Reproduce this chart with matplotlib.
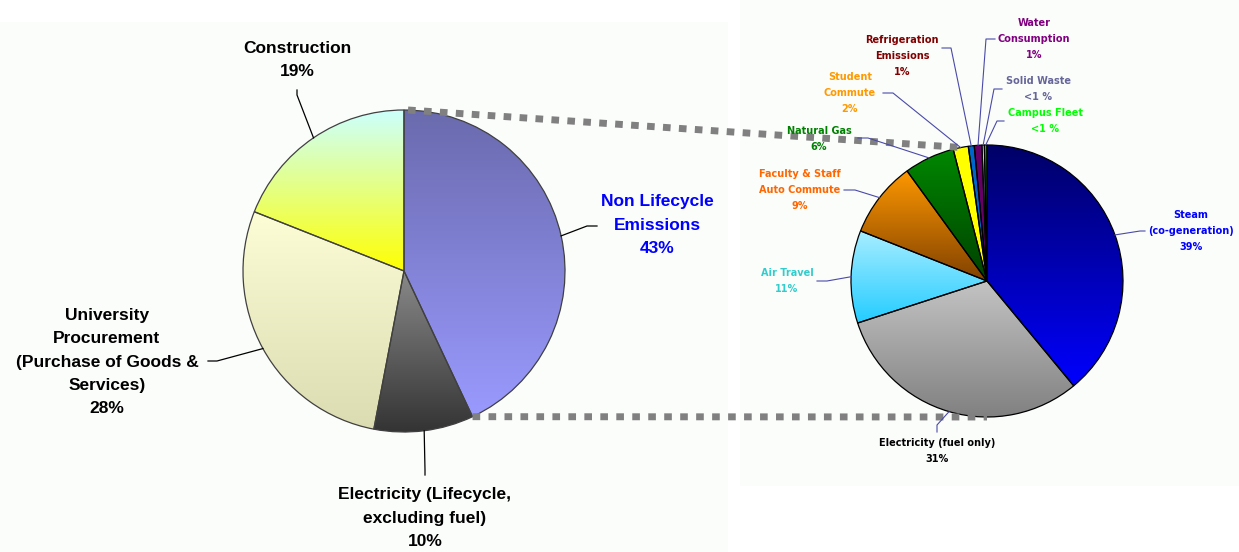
import numpy as np
import matplotlib
matplotlib.use("Agg")
import matplotlib.pyplot as plt
from matplotlib.colors import LinearSegmentedColormap
from matplotlib.patches import Rectangle

# ---------------- data ----------------
left_labels = ["Non Lifecycle\nEmissions", "Electricity (Lifecycle,\nexcluding fuel)",
               "University\nProcurement\n(Purchase of Goods &\nServices)", "Construction"]
left_values = [43, 10, 28, 19]
left_pct = ["43%", "10%", "28%", "19%"]

right_labels = ["Steam\n(co-generation)", "Electricity (fuel only)", "Air Travel",
                "Faculty & Staff\nAuto Commute", "Natural Gas", "Student\nCommute",
                "Refrigeration\nEmissions", "Water\nConsumption", "Solid Waste", "Campus Fleet"]
right_values = [39, 31, 11, 9, 6, 1.8, 0.7, 0.9, 0.3, 0.3]
right_pct = ["39%", "31%", "11%", "9%", "6%", "2%", "1%", "1%", "<1 %", "<1 %"]

# ---------------- styles ----------------
W, H = 1239, 552
left_grad = [("#6a6aae", "#9a9aff"), ("#8a8a8a", "#333333"),
             ("#fdfdd6", "#dcdcb2"), ("#ccffff", "#ffff00")]
left_txtcol = ["#0000ff", "black", "black", "black"]
right_grad = [("#000066", "#0000ff"), ("#c4c4c4", "#808080"), ("#aaeeff", "#22ccff"),
              ("#ff9900", "#804000"), ("#008800", "#004000"), ("#ffff00", "#ffff00"),
              ("#0066cc", "#0066cc"), ("#660066", "#660066"), ("#aaccee", "#aaccee"),
              ("#00ff00", "#00ff00")]
right_txtcol = ["#0000ff", "black", "#33cccc", "#ff6600", "#008000", "#ff9900",
                "#800000", "#800080", "#666699", "#00ff00"]

fig = plt.figure(figsize=(W / 100, H / 100), dpi=100)
ax = fig.add_axes([0, 0, 1, 1])
ax.set_xlim(0, W)
ax.set_ylim(0, H)
ax.set_aspect("equal")
ax.axis("off")

def Y(y):
    return H - y

# faint panel backgrounds
ax.add_patch(Rectangle((0, 0), 728, Y(22), color="#fbfdfb", zorder=0, lw=0))
ax.add_patch(Rectangle((740, Y(486)), W - 740, 486, color="#fbfdfb", zorder=0, lw=0))

def wedge_bbox(w):
    t = np.deg2rad(np.linspace(w.theta1, w.theta2, 200))
    xs = np.concatenate([[w.center[0]], w.center[0] + w.r * np.cos(t)])
    ys = np.concatenate([[w.center[1]], w.center[1] + w.r * np.sin(t)])
    return xs.min(), xs.max(), ys.min(), ys.max()

def grad_pie(values, center, radius, grads, edgecolor, lw):
    wedges, _ = ax.pie(values, startangle=90, counterclock=False, center=center,
                       radius=radius, frame=True,
                       wedgeprops=dict(facecolor="none", edgecolor=edgecolor,
                                       linewidth=lw, zorder=3))
    for w, (c1, c2) in zip(wedges, grads):
        cmap = LinearSegmentedColormap.from_list("g", [c1, c2])
        img = np.linspace(0, 1, 256).reshape(-1, 1)
        x0, x1, y0, y1 = wedge_bbox(w)
        im = ax.imshow(img, cmap=cmap, origin="upper", aspect="auto",
                       extent=(x0 - 1, x1 + 1, y0 - 1, y1 + 1),
                       zorder=2, interpolation="bilinear")
        im.set_clip_path(w)
    return wedges

def mid_point(w, frac=1.0):
    a = np.deg2rad((w.theta1 + w.theta2) / 2)
    return (w.center[0] + frac * w.r * np.cos(a), w.center[1] + frac * w.r * np.sin(a))

# ---------------- left pie ----------------
lc, lr = (404, Y(271)), 161
lw_ = grad_pie(left_values, lc, lr, left_grad, "#404040", 0.9)

# ---------------- right pie ----------------
rc, rr = (987, Y(281)), 136
rw_ = grad_pie(right_values, rc, rr, right_grad, "black", 0.9)

ax.set_xlim(0, W)
ax.set_ylim(0, H)
ax.axis("off")

# ---------------- dotted connectors ----------------
w0 = lw_[0]
a1 = np.deg2rad(w0.theta1)
p_top = (lc[0] + 4, lc[1] + lr)
p_bot = (lc[0] + lr * np.cos(a1), lc[1] + lr * np.sin(a1))
q_top = (rc[0] + rr * np.cos(np.deg2rad(101)), rc[1] + rr * np.sin(np.deg2rad(101)))
q_bot = (rc[0], rc[1] - rr)
for p, q in [(p_top, q_top), (p_bot, q_bot)]:
    ax.plot([p[0], q[0]], [p[1], q[1]], color="#808080", lw=5,
            linestyle=(0, (1.1, 1.2)), solid_capstyle="butt", zorder=4)

# ---------------- left labels ----------------
lfont = dict(family=["Liberation Sans Narrow", "Liberation Sans", "DejaVu Sans"],
             fontweight="bold", fontsize=12.5, ha="center", va="center",
             linespacing=1.7, zorder=6)
# (text center x, text center y, leader start, leader elbow)
left_layout = [
    (657, 225, (597, 226), (587, 226)),
    (425, 518, (425, 475), (425, 470)),
    (107, 362, (208, 361), (217, 361)),
    (297, 60, (297, 90), (297, 95)),
]
for w, lab, pct, col, (tx, ty, s, e) in zip(lw_, left_labels, left_pct, left_txtcol, left_layout):
    ax.text(tx, Y(ty), lab + "\n" + pct, color=col, **lfont)
    mp = mid_point(w)
    ax.plot([s[0], e[0], mp[0]], [Y(s[1]), Y(e[1]), mp[1]], color="black", lw=0.9, zorder=5)

# ---------------- right labels ----------------
rfont = dict(family=["DejaVu Sans"], fontweight="bold", fontsize=7, ha="center",
             va="center", linespacing=1.7, zorder=6)
right_layout = [
    (1191, 231, (1145, 231), (1140, 231)),
    (937, 451, (937, 432), (937, 425)),
    (787, 281, (817, 281), (827, 281)),
    (800, 190, (844, 190), (855, 190)),
    (819, 139, (858, 138), (868, 138)),
    (850, 93, (883, 93), (893, 93)),
    (902, 56, (942, 48), (951, 48)),
    (1034, 39, (995, 39), (986, 39)),
    (1038, 89, (1002, 89), (994, 89)),
    (1045, 121, (1004, 121), (997, 121)),
]
for w, lab, pct, col, (tx, ty, s, e) in zip(rw_, right_labels, right_pct, right_txtcol, right_layout):
    ax.text(tx, Y(ty), lab + "\n" + pct, color=col, **rfont)
    mp = mid_point(w)
    ax.plot([s[0], e[0], mp[0]], [Y(s[1]), Y(e[1]), mp[1]], color="#4a4aa8", lw=0.8, zorder=5)

fig.savefig("out.png", dpi=100)
